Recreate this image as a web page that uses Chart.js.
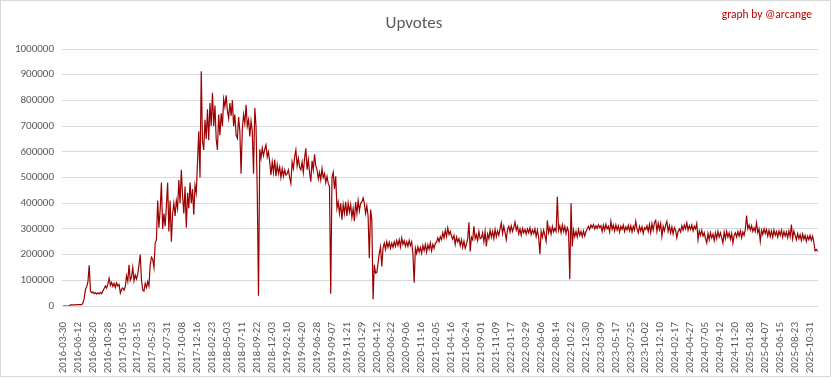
<!DOCTYPE html>
<html>
<head>
<meta charset="utf-8">
<script src="https://cdn.jsdelivr.net/npm/chart.js@4.4.1/dist/chart.umd.min.js"></script>
<style>
  html, body { margin: 0; padding: 0; background: #fff; }
  #box { position: relative; width: 832px; height: 379px; }
  #frame { position: absolute; left: 0; top: 0; width: 829px; height: 375px; border: 1px solid #d9d9d9; pointer-events: none; }
  canvas { position: absolute; left: 0; top: 0; }
</style>
</head>
<body>
<div id="box">
  <canvas id="myChart" width="832" height="379"></canvas>
  <div id="frame"></div>
</div>
<script>
// tick labels, one every 69 days
const tickLabels = [
  "2016-03-30", "2016-06-12", "2016-08-20", "2016-10-28", "2017-01-05", "2017-03-15",
  "2017-05-23", "2017-07-31", "2017-10-08", "2017-12-16", "2018-02-23", "2018-05-03",
  "2018-07-11", "2018-09-22", "2018-12-03", "2019-02-10", "2019-04-20", "2019-06-28",
  "2019-09-07", "2019-11-21", "2020-01-29", "2020-04-12", "2020-06-22", "2020-09-06",
  "2020-11-16", "2021-02-05", "2021-04-16", "2021-06-24", "2021-09-01", "2021-11-09",
  "2022-01-17", "2022-03-29", "2022-06-06", "2022-08-14", "2022-10-22", "2022-12-30",
  "2023-03-09", "2023-05-17", "2023-07-25", "2023-10-02", "2023-12-10", "2024-02-17",
  "2024-04-27", "2024-07-05", "2024-09-12", "2024-11-20", "2025-01-28", "2025-04-07",
  "2025-06-15", "2025-08-23", "2025-10-31"
];

// upvotes in thousands, 12 readings per tick interval
const samplesPerTick = 12;
const upvotesK = [
  0, 0, 0, 0, 0, 0, 4, 4, 4, 4, 4, 5,
  5, 5, 5, 5, 12, 30, 65, 75, 95, 158, 58, 52,
  55, 48, 52, 46, 51, 47, 53, 48, 58, 68, 78, 70,
  85, 108, 80, 92, 76, 88, 72, 90, 78, 84, 50, 65,
  70, 62, 75, 118, 95, 160, 100, 112, 150, 98, 120, 105,
  125, 160, 200, 100, 62, 58, 88, 72, 95, 78, 160, 190,
  182, 150, 245, 257, 410, 305, 375, 480, 300, 360, 310, 390,
  480, 290, 410, 250, 360, 400, 350, 410, 380, 490, 400, 530,
  430, 360, 465, 305, 440, 380, 480, 400, 455, 355, 470, 440,
  560, 680, 500, 913, 640, 607, 725, 650, 765, 645, 790, 700,
  830, 700, 780, 650, 607, 745, 665, 750, 700, 805, 775, 820,
  760, 730, 790, 740, 800, 700, 745, 665, 652, 735, 680, 515,
  690, 745, 710, 783, 700, 725, 660, 720, 680, 515, 770, 700,
  440, 40, 610, 575, 615, 585, 610, 627, 580, 600, 560, 510,
  560, 520, 570, 505, 550, 515, 540, 500, 535, 505, 530, 510,
  515, 530, 500, 477, 560, 535, 580, 607, 545, 575, 540, 530,
  560, 520, 575, 614, 530, 570, 520, 484, 565, 530, 590, 545,
  530, 495, 520, 490, 535, 500, 515, 480, 505, 477, 465, 48,
  500, 520, 455, 505, 380, 405, 360, 400, 336, 395, 360, 405,
  350, 400, 365, 395, 345, 380, 330, 405, 360, 410, 370, 400,
  405, 420, 400, 360, 390, 350, 186, 375, 336, 26, 160, 128,
  130, 167, 205, 230, 154, 225, 245, 220, 250, 228, 248, 225,
  245, 228, 250, 232, 255, 235, 258, 230, 265, 240, 255, 232,
  250, 232, 255, 235, 250, 206, 91, 225, 205, 230, 210, 228,
  205, 235, 215, 240, 210, 238, 220, 245, 215, 240, 225, 245,
  248, 265, 250, 270, 258, 285, 265, 295, 270, 304, 278, 290,
  272, 260, 275, 240, 268, 250, 262, 235, 258, 228, 252, 225,
  240, 262, 326, 212, 268, 258, 310, 262, 278, 255, 290, 262,
  265, 285, 250, 290, 232, 280, 262, 295, 268, 290, 262, 298,
  270, 292, 275, 300, 324, 282, 310, 285, 258, 298, 310, 288,
  312, 290, 305, 327, 295, 310, 280, 300, 275, 302, 285, 298,
  280, 300, 285, 304, 278, 296, 282, 300, 270, 295, 268, 202,
  290, 268, 295, 275, 252, 333, 285, 305, 280, 310, 288, 302,
  290, 425, 295, 312, 285, 315, 290, 310, 282, 305, 290, 104,
  400, 232, 295, 270, 290, 268, 298, 275, 290, 270, 292, 272,
  290, 300, 310, 298, 315, 305, 317, 300, 312, 302, 316, 305,
  312, 290, 315, 295, 318, 300, 310, 288, 330, 298, 315, 292,
  316, 295, 312, 288, 310, 298, 315, 290, 308, 296, 314, 292,
  312, 288, 310, 295, 330, 300, 285, 310, 292, 308, 282, 305,
  298, 312, 290, 318, 285, 320, 295, 325, 333, 290, 322, 298,
  321, 271, 310, 292, 315, 330, 290, 312, 285, 308, 280, 305,
  295, 265, 290, 300, 288, 312, 295, 315, 300, 324, 295, 312,
  298, 315, 292, 310, 300, 321, 258, 292, 275, 295, 272, 285,
  262, 245, 282, 258, 285, 265, 280, 255, 285, 262, 290, 268,
  285, 265, 245, 288, 262, 290, 268, 285, 260, 282, 245, 275,
  285, 268, 290, 272, 292, 265, 288, 275, 300, 352, 300, 315,
  295, 312, 290, 305, 290, 324, 285, 300, 252, 295, 278, 300,
  282, 298, 272, 295, 270, 292, 268, 296, 275, 290, 268, 292,
  275, 295, 268, 290, 272, 288, 265, 292, 270, 317, 262, 292,
  275, 258, 282, 262, 278, 255, 280, 260, 275, 252, 272, 258,
  275, 255, 272, 250, 215, 220, 212
];

const yTicks = [0, 100000, 200000, 300000, 400000, 500000, 600000, 700000, 800000, 900000, 1000000];

const font = 'Calibri, Carlito, "Liberation Sans", Arial, sans-serif';
const grey = "#595959";

// title and credit text
const headerText = {
  id: "headerText",
  afterDraw(chart) {
    const c = chart.ctx;
    c.save();
    c.textBaseline = "middle";
    c.fillStyle = grey;
    c.font = "17px " + font;
    c.textAlign = "center";
    c.fillText("Upvotes", 414, 24);
    c.fillStyle = "#c00000";
    c.font = "11.5px " + font;
    c.textAlign = "right";
    c.fillText("graph by @arcange", 812, 15);
    c.restore();
  }
};

const ctx = document.getElementById("myChart");
new Chart(ctx, {
  type: "line",
  data: {
    datasets: [{
      label: "Upvotes",
      data: upvotesK.map((v, i) => ({ x: i / samplesPerTick, y: v * 1000 })),
      borderColor: "#9c0000",
      borderWidth: 1.2,
      pointRadius: 0,
      tension: 0,
      fill: false
    }]
  },
  plugins: [headerText],
  options: {
    responsive: false,
    animation: false,
    layout: { padding: { left: 0, right: 14, top: 49, bottom: 0 } },
    plugins: {
      legend: { display: false },
      tooltip: { enabled: false }
    },
    scales: {
      x: {
        type: "linear",
        min: -0.07,
        max: 50.53,
        afterBuildTicks: (scale) => {
          scale.ticks = tickLabels.map((l, i) => ({ value: i }));
        },
        afterFit: (scale) => { scale.height = 73; },
        grid: { display: false },
        border: { display: false },
        ticks: {
          autoSkip: false,
          minRotation: 90,
          maxRotation: 90,
          padding: 8,
          color: grey,
          font: { family: font, size: 11 },
          callback: (v) => tickLabels[v]
        }
      },
      y: {
        min: 0,
        max: 1000000,
        afterBuildTicks: (scale) => {
          scale.ticks = yTicks.map((v) => ({ value: v }));
        },
        afterFit: (scale) => { scale.width = 62; },
        grid: { color: "#d9d9d9", drawTicks: false },
        border: { display: false },
        ticks: {
          padding: 8,
          color: grey,
          font: { family: font, size: 11 },
          callback: (v) => String(v)
        }
      }
    }
  }
});
</script>
</body>
</html>
